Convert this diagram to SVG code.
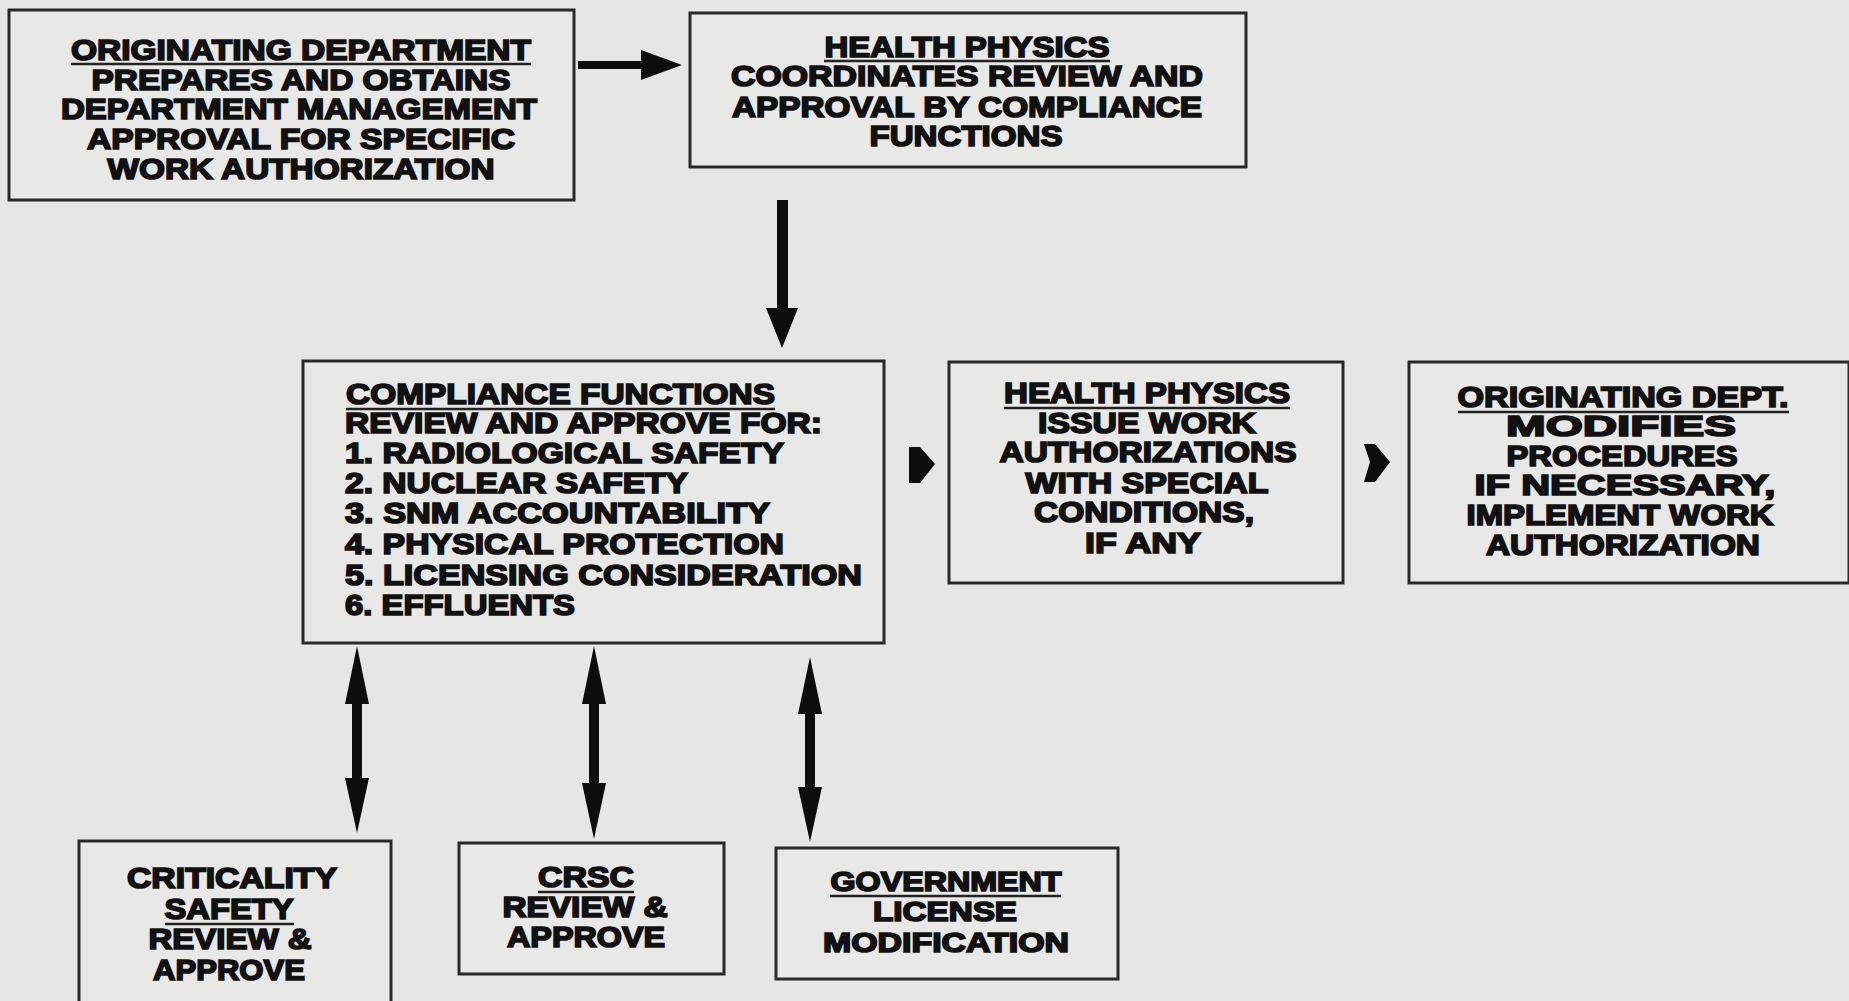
<svg xmlns="http://www.w3.org/2000/svg" width="1849" height="1001" viewBox="0 0 1849 1001">
<style>
.bg{fill:#e6e6e4}
.box{fill:#e8e8e6;stroke:#2a2a2a;stroke-width:3}
text{font-family:"Liberation Sans",Arial,sans-serif;font-weight:bold;font-size:29px;fill:#111;stroke:#111;stroke-width:1.7}
.c{text-anchor:middle}
.s{font-size:27px}
.ul{stroke:#222;stroke-width:2.5}
.arr{fill:#0d0d0d}
</style>
<rect class="bg" x="0" y="0" width="1849" height="1001"/>

<g id="node-originating">
<rect class="box" x="9" y="10" width="565" height="190"/>
<text class="c" x="301" y="60" textLength="460" lengthAdjust="spacingAndGlyphs">ORIGINATING DEPARTMENT</text>
<line class="ul" x1="71" y1="64" x2="531" y2="64"/>
<text class="c" x="301" y="90" textLength="419" lengthAdjust="spacingAndGlyphs">PREPARES AND OBTAINS</text>
<text class="c" x="299" y="119" textLength="476" lengthAdjust="spacingAndGlyphs">DEPARTMENT MANAGEMENT</text>
<text class="c" x="301" y="149" textLength="428" lengthAdjust="spacingAndGlyphs">APPROVAL FOR SPECIFIC</text>
<text class="c" x="301" y="179" textLength="387" lengthAdjust="spacingAndGlyphs">WORK AUTHORIZATION</text>
</g>

<g id="node-hp-coordinates">
<rect class="box" x="690" y="13" width="556" height="154"/>
<text class="c" x="967" y="57" textLength="285" lengthAdjust="spacingAndGlyphs">HEALTH PHYSICS</text>
<line class="ul" x1="824" y1="61" x2="1110" y2="61"/>
<text class="c" x="967" y="86" textLength="472" lengthAdjust="spacingAndGlyphs">COORDINATES REVIEW AND</text>
<text class="c" x="967" y="117" textLength="470" lengthAdjust="spacingAndGlyphs">APPROVAL BY COMPLIANCE</text>
<text class="c" x="966" y="146" textLength="193" lengthAdjust="spacingAndGlyphs">FUNCTIONS</text>
</g>

<g id="node-compliance">
<rect class="box" x="303" y="361" width="581" height="282"/>
<text x="346" y="404" textLength="429" lengthAdjust="spacingAndGlyphs">COMPLIANCE FUNCTIONS</text>
<line class="ul" x1="346" y1="409" x2="775" y2="409"/>
<text x="345" y="433" textLength="477" lengthAdjust="spacingAndGlyphs">REVIEW AND APPROVE FOR:</text>
<text x="345" y="463" textLength="439" lengthAdjust="spacingAndGlyphs">1. RADIOLOGICAL SAFETY</text>
<text x="345" y="493" textLength="343" lengthAdjust="spacingAndGlyphs">2. NUCLEAR SAFETY</text>
<text x="345" y="523" textLength="425" lengthAdjust="spacingAndGlyphs">3. SNM ACCOUNTABILITY</text>
<text x="345" y="554" textLength="439" lengthAdjust="spacingAndGlyphs">4. PHYSICAL PROTECTION</text>
<text x="345" y="585" textLength="517" lengthAdjust="spacingAndGlyphs">5. LICENSING CONSIDERATION</text>
<text x="345" y="615" textLength="230" lengthAdjust="spacingAndGlyphs">6. EFFLUENTS</text>
</g>

<g id="node-hp-issue">
<rect class="box" x="949" y="362" width="394" height="221"/>
<text class="c" x="1147" y="403" textLength="286" lengthAdjust="spacingAndGlyphs">HEALTH PHYSICS</text>
<line class="ul" x1="1004" y1="408" x2="1290" y2="408"/>
<text class="c" x="1147" y="433" textLength="218" lengthAdjust="spacingAndGlyphs">ISSUE WORK</text>
<text class="c" x="1148" y="462" textLength="297" lengthAdjust="spacingAndGlyphs">AUTHORIZATIONS</text>
<text class="c" x="1147" y="493" textLength="243" lengthAdjust="spacingAndGlyphs">WITH SPECIAL</text>
<text class="c" x="1144" y="522" textLength="220" lengthAdjust="spacingAndGlyphs">CONDITIONS,</text>
<text class="c" x="1143" y="553" textLength="116" lengthAdjust="spacingAndGlyphs">IF ANY</text>
</g>

<g id="node-orig-modifies">
<rect class="box" x="1409" y="362" width="440" height="221"/>
<text class="c" x="1623" y="407" textLength="331" lengthAdjust="spacingAndGlyphs">ORIGINATING DEPT.</text>
<line class="ul" x1="1458" y1="412" x2="1789" y2="412"/>
<text class="c" x="1621" y="436" textLength="230" lengthAdjust="spacingAndGlyphs">MODIFIES</text>
<text class="c" x="1622" y="466" textLength="231" lengthAdjust="spacingAndGlyphs">PROCEDURES</text>
<text class="c" x="1625" y="495" textLength="301" lengthAdjust="spacingAndGlyphs">IF NECESSARY,</text>
<text class="c" x="1620" y="525" textLength="307" lengthAdjust="spacingAndGlyphs">IMPLEMENT WORK</text>
<text class="c" x="1623" y="555" textLength="274" lengthAdjust="spacingAndGlyphs">AUTHORIZATION</text>
</g>

<g id="node-criticality">
<rect class="box" x="79" y="841" width="312" height="164"/>
<text class="c" x="232" y="888" textLength="210" lengthAdjust="spacingAndGlyphs">CRITICALITY</text>
<text class="c" x="229" y="919" textLength="129" lengthAdjust="spacingAndGlyphs">SAFETY</text>
<line class="ul" x1="165" y1="924" x2="294" y2="924"/>
<text class="c" x="230" y="949" textLength="163" lengthAdjust="spacingAndGlyphs">REVIEW &amp;</text>
<text class="c" x="229" y="980" textLength="152" lengthAdjust="spacingAndGlyphs">APPROVE</text>
</g>

<g id="node-crsc">
<rect class="box" x="459" y="843" width="265" height="131"/>
<text class="c" x="586" y="887" textLength="96" lengthAdjust="spacingAndGlyphs">CRSC</text>
<line class="ul" x1="538" y1="892" x2="634" y2="892"/>
<text class="c" x="585" y="917" textLength="165" lengthAdjust="spacingAndGlyphs">REVIEW &amp;</text>
<text class="c" x="586" y="947" textLength="158" lengthAdjust="spacingAndGlyphs">APPROVE</text>
</g>

<g id="node-government">
<rect class="box" x="776" y="848" width="342" height="131"/>
<text class="c s" x="946" y="891" textLength="231" lengthAdjust="spacingAndGlyphs">GOVERNMENT</text>
<line class="ul" x1="830" y1="896" x2="1061" y2="896"/>
<text class="c s" x="945" y="921" textLength="144" lengthAdjust="spacingAndGlyphs">LICENSE</text>
<text class="c s" x="946" y="952" textLength="246" lengthAdjust="spacingAndGlyphs">MODIFICATION</text>
</g>

<g id="connectors">
<polygon class="arr" points="578,61 641,61 641,50 682,65 641,80 641,69 578,69"/>
<polygon class="arr" points="777,200 788,200 788,308 798,308 782,348 766,308 777,308"/>
<polygon class="arr" points="909,447 920,447 935,464 920,483 909,483"/>
<polygon class="arr" points="1364,444 1375,444 1390,462 1375,482 1364,482 1370,462"/>
<polygon class="arr" points="357,646 369,704 362,704 362,778 369,778 357,833 345,778 352,778 352,704 345,704"/>
<polygon class="arr" points="594,646 606,704 599,704 599,783 606,783 594,839 582,783 589,783 589,704 582,704"/>
<polygon class="arr" points="810,657 822,714 815,714 815,787 822,787 810,842 798,787 805,787 805,714 798,714"/>
</g>
</svg>
